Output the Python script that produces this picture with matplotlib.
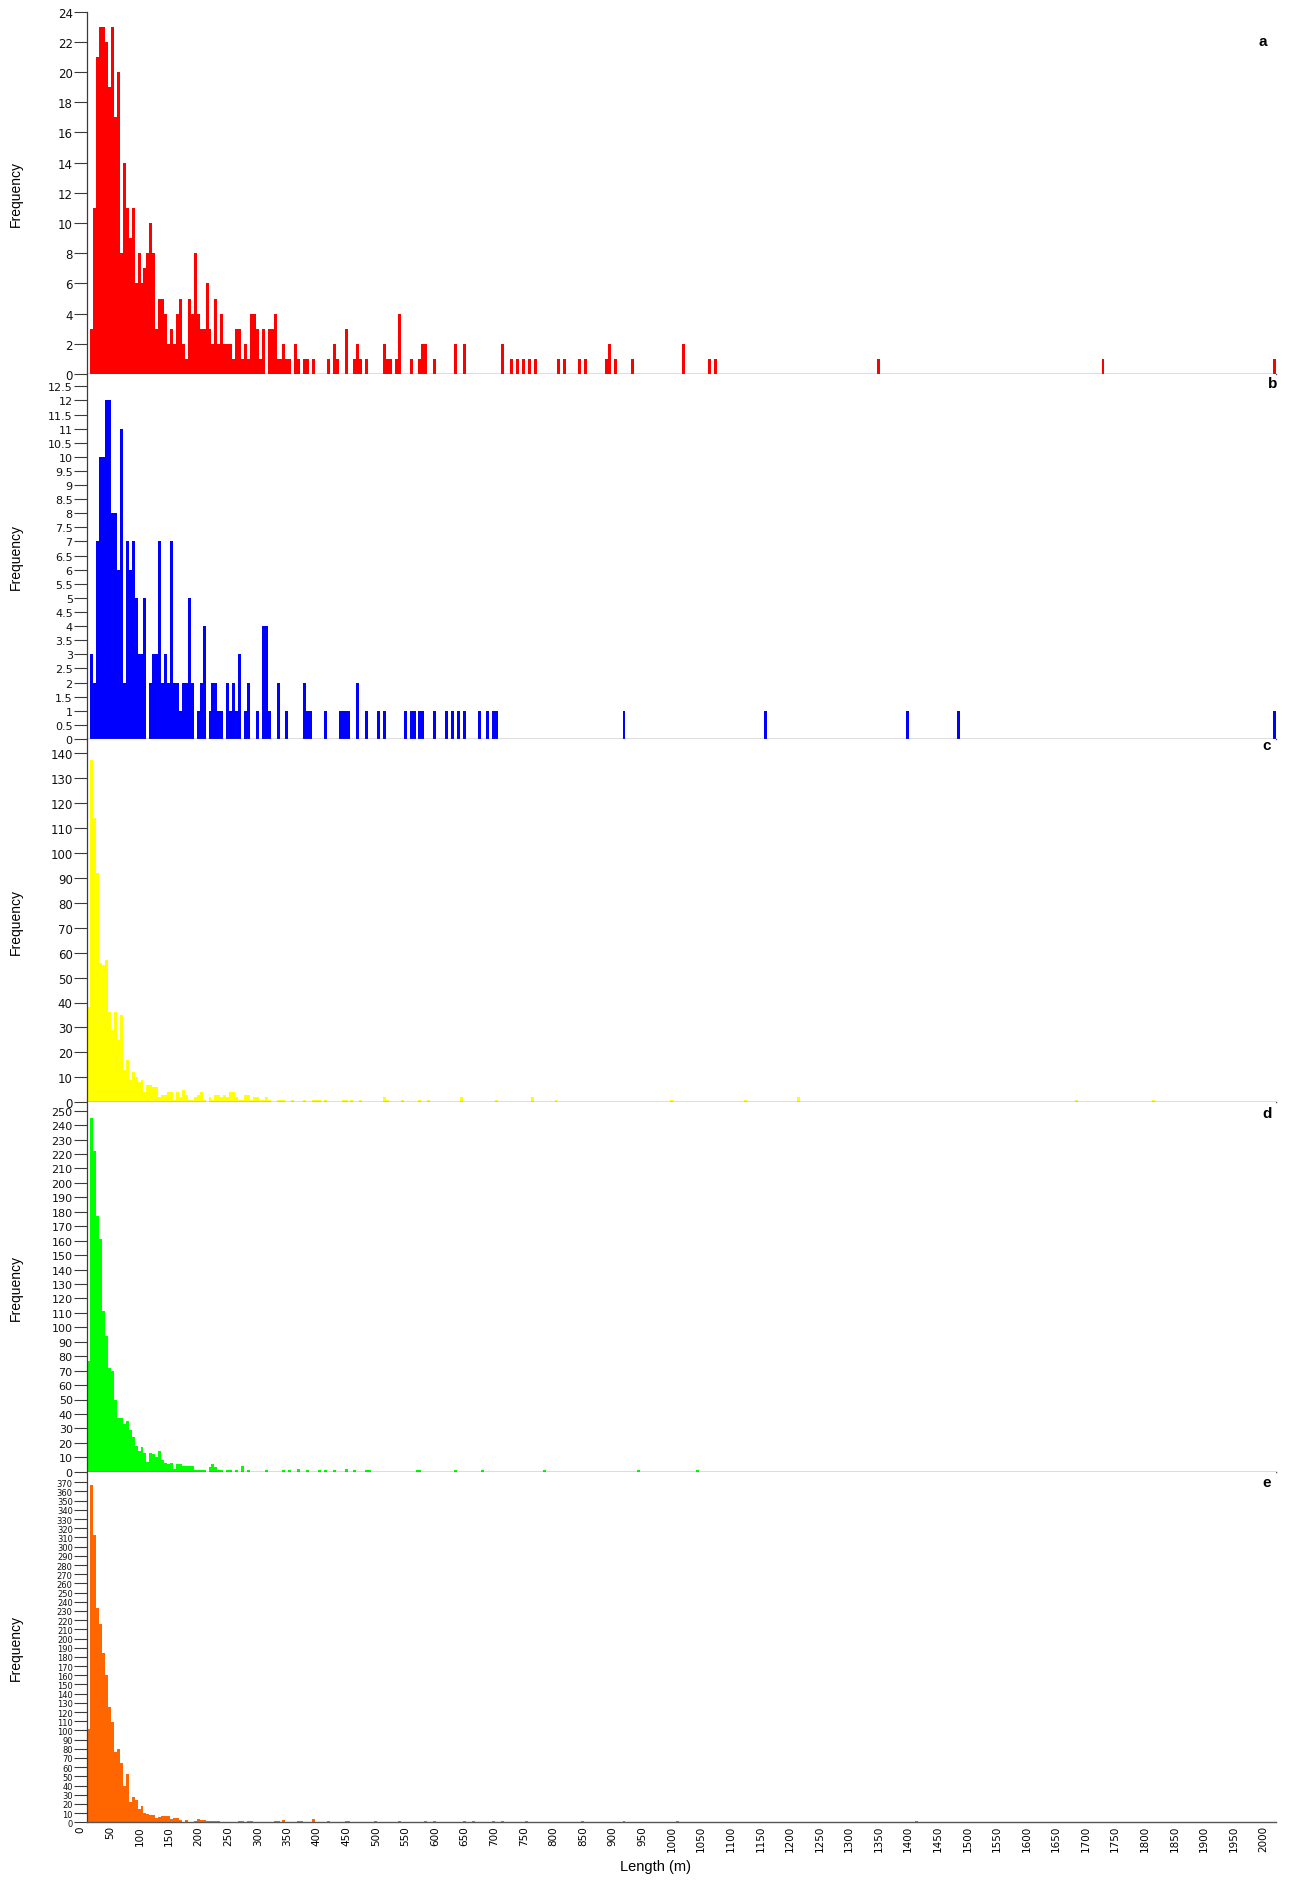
import matplotlib
matplotlib.use("Agg")
import matplotlib.pyplot as plt
import matplotlib.transforms as mtransforms
import numpy as np

# Length classes are 5 m wide; *_counts start at 0 m, *_tail lists sparse classes (start in m, count)
BIN = 5

a_counts = [0, 3, 11, 21, 23, 23, 22, 19, 23, 17,
            20, 8, 14, 11, 9, 11, 6, 8, 6, 7,
            8, 10, 8, 3, 5, 5, 4, 2, 3, 2,
            4, 5, 2, 1, 5, 4, 8, 4, 3, 3,
            6, 3, 2, 5, 2, 4, 2, 2, 2, 1,
            3, 3, 1, 2, 1, 4, 4, 3, 1, 3,
            0, 3, 3, 4, 1, 1, 2, 1, 1, 0,
            2, 1, 0, 1, 1, 0, 1]
a_tail_len = [405, 415, 420, 435, 450, 455, 460, 470, 500, 505, 510, 520, 525, 545,
              560, 565, 570, 585, 620, 635, 700, 715, 725, 735, 745, 755, 795, 805,
              830, 840, 875, 880, 890, 920, 1005, 1050, 1060, 1335, 1715, 2005]
a_tail_n = [1, 2, 1, 3, 1, 2, 1, 1, 2, 1, 1, 1, 4, 1,
            1, 2, 2, 1, 2, 2, 2, 1, 1, 1, 1, 1, 1, 1,
            1, 1, 1, 2, 1, 1, 2, 1, 1, 1, 1, 1]

b_counts = [0, 3, 2, 7, 10, 10, 12, 12, 8, 8,
            6, 11, 2, 7, 6, 7, 5, 3, 3, 5,
            0, 2, 3, 3, 7, 2, 3, 2, 7, 2,
            2, 1, 2, 2, 5, 2, 0, 1, 2, 4,
            0, 1, 2, 2, 1, 1, 0, 2, 1, 2,
            1, 3, 0, 1, 2, 0, 0, 1, 0, 4,
            4, 1, 0, 0, 2, 0, 0, 1, 0, 0,
            0, 0, 0, 2, 1, 1]
b_tail_len = [400, 425, 430, 435, 440, 455, 470, 490, 500, 535, 545, 550, 560, 565,
              585, 605, 615, 625, 635, 660, 675, 685, 690, 905, 1145, 1385, 1470, 2005]
b_tail_n = [1, 1, 1, 1, 1, 2, 1, 1, 1, 1, 1, 1, 1, 1,
            1, 1, 1, 1, 1, 1, 1, 1, 1, 1, 1, 1, 1, 1]

c_counts = [38, 137, 114, 92, 56, 55, 57, 36, 29, 36,
            25, 35, 13, 17, 9, 12, 10, 8, 9, 4,
            7, 7, 6, 6, 2, 3, 3, 4, 4, 1,
            4, 2, 5, 3, 1, 1, 2, 3, 4, 1,
            0, 2, 1, 3, 3, 2, 3, 2, 4, 4,
            2, 1, 1, 3, 3, 1, 2, 2, 1, 1,
            2, 1, 0, 0, 1, 1, 1, 0, 0, 1,
            0, 0, 0, 1, 0, 0, 1, 1, 1, 0, 1]
c_tail_len = [430, 435, 445, 460, 500, 505, 530, 560, 575, 630, 690, 750, 790,
              985, 1110, 1200, 1670, 1800]
c_tail_n = [1, 1, 1, 1, 2, 1, 1, 1, 1, 2, 1, 2, 1,
            1, 1, 2, 1, 1]

d_counts = [77, 245, 222, 177, 161, 111, 94, 72, 70, 50,
            37, 37, 33, 35, 29, 24, 18, 14, 17, 13,
            7, 13, 12, 10, 14, 8, 6, 5, 6, 2,
            5, 5, 4, 4, 4, 4, 1, 1, 1, 1,
            0, 3, 5, 3, 1, 1, 0, 1, 1, 0,
            1, 0, 4, 0, 1]
d_tail_len = [300, 330, 340, 355, 370, 390, 400, 415, 435, 450, 470, 475, 555, 560,
              620, 665, 770, 930, 1030]
d_tail_n = [1, 1, 1, 2, 1, 1, 1, 1, 2, 1, 1, 1, 1, 1,
            1, 1, 1, 1, 1]

e_counts = [102, 367, 313, 233, 216, 184, 160, 126, 109, 76,
            80, 65, 40, 53, 22, 27, 24, 14, 18, 10,
            9, 8, 8, 5, 6, 7, 7, 7, 4, 5,
            5, 2, 0, 3, 0, 0, 1, 4, 3, 2,
            1, 1, 1, 1, 1]
e_tail_len = [255, 260, 270, 275, 315, 320, 330, 355, 360, 380, 405, 435, 440, 485,
              525, 570, 585, 635, 650, 685, 700, 740, 835, 905, 995, 1400]
e_tail_n = [1, 1, 1, 1, 1, 1, 3, 1, 1, 4, 1, 1, 1, 1,
            1, 1, 1, 1, 1, 1, 1, 1, 1, 1, 1, 1]

panel_letters = ["a", "b", "c", "d", "e"]
panel_colors = ["#ff0000", "#0000ff", "#ffff00", "#00ff00", "#ff6600"]
y_steps = [2, 0.5, 10, 10, 10]
y_tops = [24, 12.5, 140, 250, 370]
y_label_sizes = [8.5, 8.0, 8.5, 8.0, 6.0]

x_ticks = list(range(0, 2001, 50))

# ---------------------------------------------------------------- layout (pixels)
W, H = 1289, 1881
X0, X1 = 87.3, 1276
XMAX = 2010
panel_px = [(12.7, 375.0, 12.7), (375.0, 740.0, 387.3), (740.0, 1103.3, 754.0),
            (1103.3, 1472.7, 1111.7), (1472.7, 1823.3, 1483.3)]
letter_px = [(1263, 42), (1273, 384), (1267, 746), (1267, 1114), (1267, 1483)]

plt.rcParams["font.family"] = ["DejaVu Sans"]
fig = plt.figure(figsize=(W / 100, H / 100), dpi=100)

datasets = [(a_counts, a_tail_len, a_tail_n), (b_counts, b_tail_len, b_tail_n),
            (c_counts, c_tail_len, c_tail_n), (d_counts, d_tail_len, d_tail_n),
            (e_counts, e_tail_len, e_tail_n)]

axis_col = "#3a3a3a"
for i, (counts, tail_len, tail_n) in enumerate(datasets):
    top, bottom, top_tick = panel_px[i]
    ax = fig.add_axes([X0 / W, 1 - bottom / H, (X1 - X0) / W, (bottom - top) / H])
    starts = list(np.arange(len(counts)) * BIN) + list(tail_len)
    heights = list(counts) + list(tail_n)
    ax.bar(starts, heights, width=BIN, align="edge", color=panel_colors[i],
           edgecolor="none", linewidth=0)

    # y range: top tick sits at top_tick px, axes may extend a little above it
    px_per_unit = (bottom - top_tick) / y_tops[i]
    ax.set_ylim(0, y_tops[i] + (top_tick - top) / px_per_unit)
    ax.set_xlim(0, XMAX)
    ax.set_yticks(np.arange(0, y_tops[i] + y_steps[i] / 2, y_steps[i]))
    if y_steps[i] < 1:
        ax.set_yticklabels([("%g" % v) for v in ax.get_yticks()])
    ax.tick_params(axis="y", length=9.5, width=0.8, color=axis_col, pad=1,
                   labelsize=y_label_sizes[i], labelcolor="#111111")

    for s in ("top", "right"):
        ax.spines[s].set_visible(False)
    ax.spines["left"].set_color(axis_col)
    ax.spines["bottom"].set_color("#555555")
    ax.spines["left"].set_linewidth(0.9)
    ax.spines["bottom"].set_linewidth(1.0)
    ax.spines["left"].set_bounds(0, y_tops[i] if i == 0 else ax.get_ylim()[1])

    if i < 4:
        ax.set_xticks([])
    else:
        ax.set_xticks(x_ticks)
        ax.set_xticklabels([str(v) for v in x_ticks], rotation=90, fontsize=7.5)
        ax.tick_params(axis="x", length=0, pad=2)
        shift = mtransforms.ScaledTranslation(-7 / 100, 0, fig.dpi_scale_trans)
        for lab in ax.get_xticklabels():
            lab.set_transform(lab.get_transform() + shift)

    yc = (top + bottom) / 2
    fig.text(16 / W, 1 - yc / H, "Frequency", rotation=90, ha="center", va="center",
             fontsize=10, family=["Liberation Sans", "DejaVu Sans"])
    lx, ly = letter_px[i]
    fig.text(lx / W, 1 - ly / H, panel_letters[i], ha="center", va="center",
             fontsize=11, fontweight="bold", family=["Liberation Sans", "DejaVu Sans"])

fig.text(655 / W, 1 - 1867 / H, "Length (m)", ha="center", va="center",
         fontsize=10.5, family=["Liberation Sans", "DejaVu Sans"])

fig.savefig("out.png", dpi=100, facecolor="white")
